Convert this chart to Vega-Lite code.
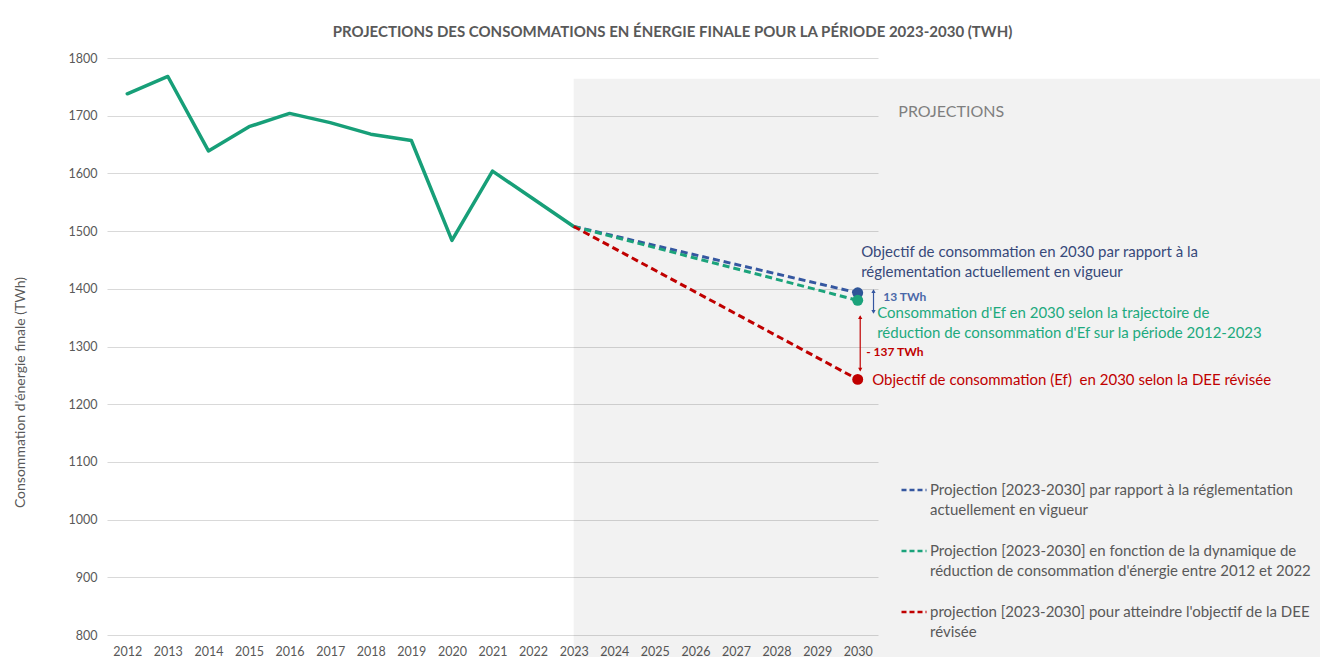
{
  "$schema": "https://vega.github.io/schema/vega-lite/v6.json",
  "autosize": "none",
  "width": 771,
  "height": 577,
  "padding": {"left": 107, "top": 58, "right": 442, "bottom": 22},
  "background": "#ffffff",
  "config": {
    "view": {"stroke": null},
    "font": "Lato",
    "axis": {"labelFont": "Lato", "titleFont": "Lato"},
    "legend": {"labelFont": "Lato"}
  },
  "title": {
    "text": "PROJECTIONS DES CONSOMMATIONS EN ÉNERGIE FINALE POUR LA PÉRIODE 2023-2030 (TWH)",
    "font": "Lato",
    "fontSize": 15,
    "fontWeight": "bold",
    "color": "#595959",
    "anchor": "middle",
    "dx": 180,
    "offset": 12
  },
  "datasets": {
    "historique": [
      {"annee": 2012, "conso": 1738},
      {"annee": 2013, "conso": 1768},
      {"annee": 2014, "conso": 1639},
      {"annee": 2015, "conso": 1681},
      {"annee": 2016, "conso": 1704},
      {"annee": 2017, "conso": 1688},
      {"annee": 2018, "conso": 1668},
      {"annee": 2019, "conso": 1657},
      {"annee": 2020, "conso": 1484},
      {"annee": 2021, "conso": 1604},
      {"annee": 2022, "conso": 1556},
      {"annee": 2023, "conso": 1508}
    ],
    "projections": [
      {"annee": 2023, "conso": 1508, "serie": "Projection [2023-2030] par rapport à la réglementation actuellement en vigueur"},
      {"annee": 2030, "conso": 1393, "serie": "Projection [2023-2030] par rapport à la réglementation actuellement en vigueur"},
      {"annee": 2023, "conso": 1508, "serie": "Projection [2023-2030] en fonction de la dynamique de réduction de consommation d'énergie entre 2012 et 2022"},
      {"annee": 2030, "conso": 1380, "serie": "Projection [2023-2030] en fonction de la dynamique de réduction de consommation d'énergie entre 2012 et 2022"},
      {"annee": 2023, "conso": 1508, "serie": "projection [2023-2030] pour atteindre l'objectif de la DEE révisée"},
      {"annee": 2030, "conso": 1243, "serie": "projection [2023-2030] pour atteindre l'objectif de la DEE révisée"}
    ],
    "un": [{}]
  },
  "layer": [
    {
      "data": {"name": "un"},
      "mark": {"type": "rect", "fill": "#000000", "opacity": 0.05},
      "encoding": {
        "x": {"datum": 2023, "type": "quantitative"},
        "x2": {"datum": 2042},
        "y": {"datum": 1764, "type": "quantitative"},
        "y2": {"datum": 760}
      }
    },
    {
      "data": {"name": "historique"},
      "mark": {"type": "line", "color": "#179F78", "strokeWidth": 3.5, "strokeJoin": "round", "strokeCap": "round"},
      "encoding": {
        "x": {
          "field": "annee", "type": "quantitative",
          "scale": {"domain": [2011.5, 2030.5], "nice": false, "zero": false},
          "axis": {
            "title": null, "values": [2012,2013,2014,2015,2016,2017,2018,2019,2020,2021,2022,2023,2024,2025,2026,2027,2028,2029,2030],
            "format": "d", "grid": false, "domain": false, "ticks": false,
            "labelFontSize": 12.5, "labelColor": "#595959", "labelPadding": 10,
            "labelFlush": false, "labelOverlap": false
          }
        },
        "y": {
          "field": "conso", "type": "quantitative",
          "scale": {"domain": [800, 1800], "nice": false, "zero": false},
          "axis": {
            "title": "Consommation d'énergie finale (TWh)",
            "values": [800,900,1000,1100,1200,1300,1400,1500,1600,1700,1800],
            "format": "d",
            "grid": true, "gridColor": "#D9D9D9", "gridWidth": 1,
            "domain": false, "ticks": false,
            "labelFontSize": 12.5, "labelColor": "#595959", "labelPadding": 10,
            "titleFontSize": 14, "titleFontWeight": "normal", "titleColor": "#595959",
            "titleX": -87, "titleY": 334, "titleAngle": -90, "titleAlign": "center", "titleBaseline": "middle"
          }
        }
      }
    },
    {
      "data": {"name": "projections"},
      "mark": {"type": "line", "strokeWidth": 3, "strokeDash": [7, 4]},
      "encoding": {
        "x": {"field": "annee", "type": "quantitative"},
        "y": {"field": "conso", "type": "quantitative"},
        "color": {
          "field": "serie", "type": "nominal",
          "scale": {
            "domain": [
              "Projection [2023-2030] par rapport à la réglementation actuellement en vigueur",
              "Projection [2023-2030] en fonction de la dynamique de réduction de consommation d'énergie entre 2012 et 2022",
              "projection [2023-2030] pour atteindre l'objectif de la DEE révisée"
            ],
            "range": ["#3557A0", "#1BA37B", "#C00000"]
          },
          "legend": {
            "title": null, "orient": "none", "legendX": 793, "legendY": 418,
            "symbolType": "stroke", "symbolSize": 625, "symbolStrokeWidth": 2.5, "symbolDash": [5, 3],
            "labelFontSize": 15, "labelColor": "#595959", "labelLimit": 600, "labelOffset": 2,
            "rowPadding": 19,
            "labelExpr": "split(replace(replace(replace(datum.label, ' actuellement', '|actuellement'), ' réduction', '|réduction'), ' révisée', '|révisée'), '|')",
            "encode": {"labels": {"update": {"lineHeight": {"value": 20}}}}
          }
        }
      }
    },
    {
      "data": {"name": "projections"},
      "transform": [{"filter": "datum.annee == 2030"}],
      "mark": {"type": "point", "filled": true, "opacity": 1, "size": 120},
      "encoding": {
        "x": {"field": "annee", "type": "quantitative"},
        "y": {"field": "conso", "type": "quantitative"},
        "fill": {
          "field": "serie", "type": "nominal", "legend": null,
          "scale": {
            "domain": [
              "Projection [2023-2030] par rapport à la réglementation actuellement en vigueur",
              "Projection [2023-2030] en fonction de la dynamique de réduction de consommation d'énergie entre 2012 et 2022",
              "projection [2023-2030] pour atteindre l'objectif de la DEE révisée"
            ],
            "range": ["#2F5597", "#1BA37B", "#C00000"]
          }
        }
      }
    },
    {
      "data": {"name": "un"},
      "mark": {"type": "rule", "color": "#3557A0", "strokeWidth": 1.2, "xOffset": 15.8},
      "encoding": {"x": {"datum": 2030, "type": "quantitative"}, "y": {"datum": 1397, "type": "quantitative"}, "y2": {"datum": 1359}}
    },
    {
      "data": {"name": "un"},
      "mark": {"type": "point", "shape": "triangle-up", "filled": true, "size": 18, "color": "#3557A0", "opacity": 1, "xOffset": 15.8},
      "encoding": {"x": {"datum": 2030, "type": "quantitative"}, "y": {"datum": 1396, "type": "quantitative"}}
    },
    {
      "data": {"name": "un"},
      "mark": {"type": "point", "shape": "triangle-down", "filled": true, "size": 18, "color": "#3557A0", "opacity": 1, "xOffset": 15.8},
      "encoding": {"x": {"datum": 2030, "type": "quantitative"}, "y": {"datum": 1360, "type": "quantitative"}}
    },
    {
      "data": {"name": "un"},
      "mark": {"type": "rule", "color": "#C00000", "strokeWidth": 1.2, "xOffset": 2.5},
      "encoding": {"x": {"datum": 2030, "type": "quantitative"}, "y": {"datum": 1352, "type": "quantitative"}, "y2": {"datum": 1259}}
    },
    {
      "data": {"name": "un"},
      "mark": {"type": "point", "shape": "triangle-up", "filled": true, "size": 18, "color": "#C00000", "opacity": 1, "xOffset": 2.5},
      "encoding": {"x": {"datum": 2030, "type": "quantitative"}, "y": {"datum": 1351, "type": "quantitative"}}
    },
    {
      "data": {"name": "un"},
      "mark": {"type": "point", "shape": "triangle-down", "filled": true, "size": 18, "color": "#C00000", "opacity": 1, "xOffset": 2.5},
      "encoding": {"x": {"datum": 2030, "type": "quantitative"}, "y": {"datum": 1260, "type": "quantitative"}}
    },
    {
      "data": {"name": "un"},
      "mark": {"type": "text", "align": "left", "baseline": "top", "fontSize": 15, "lineHeight": 20, "color": "#37497A", "dx": 3.5, "dy": -48},
      "encoding": {
        "x": {"datum": 2030, "type": "quantitative"}, "y": {"datum": 1393, "type": "quantitative"},
        "text": {"value": ["Objectif de consommation en 2030 par rapport à la", "réglementation actuellement en vigueur"]}
      }
    },
    {
      "data": {"name": "un"},
      "mark": {"type": "text", "align": "left", "baseline": "top", "fontSize": 15, "lineHeight": 20, "color": "#1DAA7E", "dx": 19.5, "dy": 6},
      "encoding": {
        "x": {"datum": 2030, "type": "quantitative"}, "y": {"datum": 1380, "type": "quantitative"},
        "text": {"value": ["Consommation d'Ef en 2030 selon la trajectoire de", "réduction de consommation d'Ef sur la période 2012-2023"]}
      }
    },
    {
      "data": {"name": "un"},
      "mark": {"type": "text", "align": "left", "baseline": "middle", "fontSize": 15, "color": "#C00000", "dx": 14.5, "dy": 1},
      "encoding": {
        "x": {"datum": 2030, "type": "quantitative"}, "y": {"datum": 1243, "type": "quantitative"},
        "text": {"value": "Objectif de consommation (Ef)\u00a0 en 2030 selon la DEE révisée"}
      }
    },
    {
      "data": {"name": "un"},
      "mark": {"type": "text", "align": "left", "baseline": "middle", "fontSize": 12, "fontWeight": "bold", "color": "#4A68A8", "dx": 25.5, "dy": 4},
      "encoding": {
        "x": {"datum": 2030, "type": "quantitative"}, "y": {"datum": 1393, "type": "quantitative"},
        "text": {"value": "13 TWh"}
      }
    },
    {
      "data": {"name": "un"},
      "mark": {"type": "text", "align": "left", "baseline": "middle", "fontSize": 12, "fontWeight": "bold", "color": "#C00000", "dx": 8.5, "dy": 52},
      "encoding": {
        "x": {"datum": 2030, "type": "quantitative"}, "y": {"datum": 1380, "type": "quantitative"},
        "text": {"value": "- 137 TWh"}
      }
    },
    {
      "data": {"name": "un"},
      "mark": {"type": "text", "align": "left", "baseline": "middle", "fontSize": 16, "color": "#7F7F7F"},
      "encoding": {
        "x": {"datum": 2031, "type": "quantitative"}, "y": {"datum": 1706, "type": "quantitative"},
        "text": {"value": "PROJECTIONS"}
      }
    }
  ]
}
